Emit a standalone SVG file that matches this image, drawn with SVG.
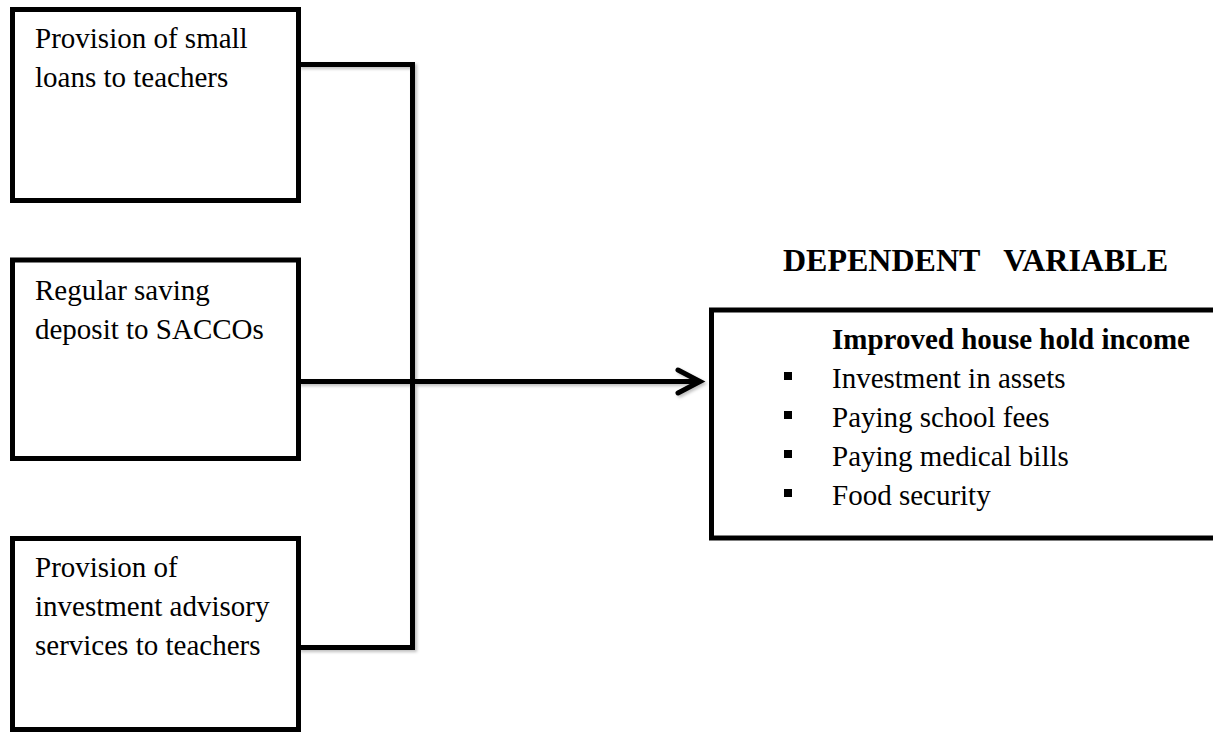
<svg xmlns="http://www.w3.org/2000/svg" width="1213" height="732" viewBox="0 0 1213 732">
  <defs>
    <filter id="sh" x="-5%" y="-5%" width="110%" height="110%">
      <feDropShadow dx="2" dy="2" stdDeviation="1.5" flood-color="#000" flood-opacity="0.25"/>
    </filter>
  </defs>
  <style>
    .box { fill: #fff; stroke: #000; stroke-width: 5; }
    .t { font-family: "Liberation Serif", "Times New Roman", serif; font-size: 29px; fill: #000; }
    .b { font-weight: bold; }
    .title { font-family: "Liberation Serif", "Times New Roman", serif; font-size: 32px; font-weight: bold; fill: #000; white-space: pre; }
    .conn { fill: none; stroke: #000; stroke-width: 5; }
    .bul { fill: #000; }
  </style>
  <rect width="1213" height="732" fill="#fff"/>

  <g id="connectors" filter="url(#sh)">
    <path class="conn" d="M298.5,64.5 H412.5 V647.5 H298.5"/>
    <path class="conn" d="M298.5,381.5 H699"/>
    <path class="conn" d="M678,370 L700,381.5 L678,393" stroke-linejoin="miter" stroke-linecap="round"/>
  </g>

  <g id="node-loans">
    <rect class="box" x="12.5" y="9.5" width="286" height="191"/>
    <text class="t" x="35" y="48">Provision of small</text>
    <text class="t" x="35" y="87">loans to teachers</text>
  </g>

  <g id="node-saving">
    <rect class="box" x="12.5" y="260" width="286" height="198.5"/>
    <text class="t" x="35" y="300">Regular saving</text>
    <text class="t" x="35" y="339">deposit to SACCOs</text>
  </g>

  <g id="node-advisory">
    <rect class="box" x="12.5" y="538.5" width="286" height="191"/>
    <text class="t" x="35" y="577">Provision of</text>
    <text class="t" x="35" y="616">investment advisory</text>
    <text class="t" x="35" y="655">services to teachers</text>
  </g>

  <g id="title">
    <text class="title" x="783" y="271">DEPENDENT   VARIABLE</text>
  </g>

  <g id="node-income">
    <rect class="box" x="711.5" y="310" width="520" height="228"/>
    <text class="t b" x="832" y="349">Improved house hold income</text>
    <rect class="bul" x="784" y="372" width="8" height="8"/>
    <text class="t" x="832" y="388">Investment in assets</text>
    <rect class="bul" x="784" y="411" width="8" height="8"/>
    <text class="t" x="832" y="427">Paying school fees</text>
    <rect class="bul" x="784" y="450" width="8" height="8"/>
    <text class="t" x="832" y="466">Paying medical bills</text>
    <rect class="bul" x="784" y="489" width="8" height="8"/>
    <text class="t" x="832" y="505">Food security</text>
  </g>
</svg>
